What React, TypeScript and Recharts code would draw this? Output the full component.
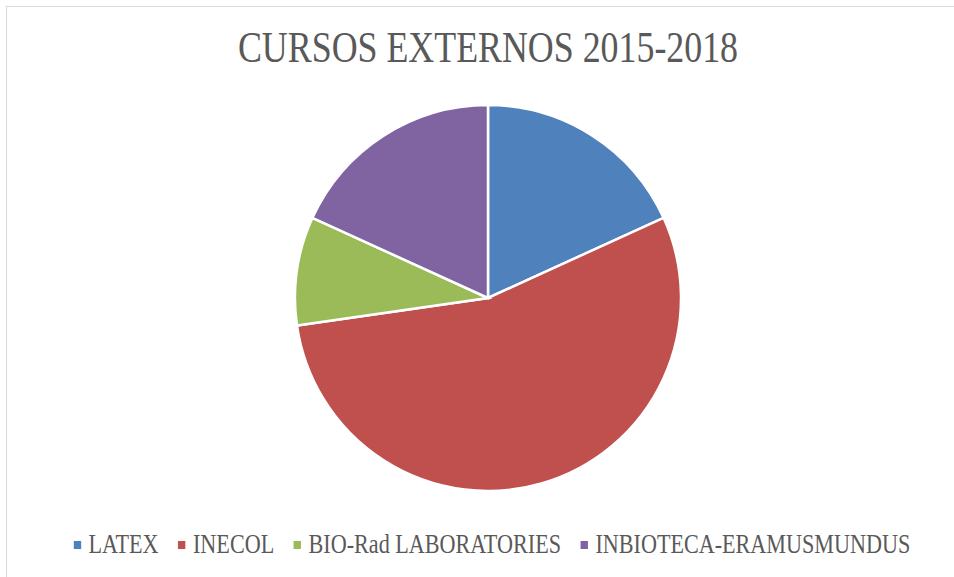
import React from "react";
import { PieChart, Pie, Cell, Legend } from "recharts";

const categories = ["LATEX", "INECOL", "BIO-Rad LABORATORIES", "INBIOTECA-ERAMUSMUNDUS"];
const cursos = [2, 6, 1, 2];
const colors = ["#4f81bd", "#c0504d", "#9bbb59", "#8064a2"];
const title = "CURSOS EXTERNOS 2015-2018";

const data = categories.map((name, i) => ({ name, value: cursos[i] }));

const FONT = '"Liberation Serif", "Times New Roman", serif';
const TEXT_COLOR = "#595959";

const renderLegend = (props: any) => {
  const payload = [...(props.payload || [])].sort(
    (a: any, b: any) => categories.indexOf(a.value) - categories.indexOf(b.value)
  );
  return (
    <div
      style={{
        display: "flex",
        justifyContent: "center",
        whiteSpace: "nowrap",
        transform: "scaleX(0.82)",
        transformOrigin: "center",
        fontFamily: FONT,
        fontSize: 27,
        color: TEXT_COLOR,
      }}
    >
      {payload.map((entry: any, i: number) => (
        <span
          key={entry.value}
          style={{ display: "inline-flex", alignItems: "center", marginLeft: i === 0 ? 0 : 24 }}
        >
          <span
            style={{
              display: "inline-block",
              width: 9,
              height: 8,
              background: entry.color,
              marginRight: 9,
            }}
          />
          {entry.value}
        </span>
      ))}
    </div>
  );
};

export default function App() {
  return (
    <div
      style={{
        position: "fixed",
        left: 0,
        top: 0,
        width: 954,
        height: 577,
        background: "#fff",
        overflow: "hidden",
      }}
    >
      <div
        style={{
          position: "absolute",
          left: 6,
          top: 6,
          width: 980,
          height: 600,
          border: "1px solid #d9d9d9",
        }}
      />
      <div
        style={{
          position: "absolute",
          left: 0,
          top: 22,
          width: 976,
          textAlign: "center",
          fontFamily: FONT,
          fontSize: 44,
          color: TEXT_COLOR,
          transform: "scaleX(0.815)",
          transformOrigin: "488px 0",
          whiteSpace: "nowrap",
        }}
      >
        {title}
      </div>
      <div style={{ position: "absolute", left: 0, top: 0 }}>
        <PieChart width={954} height={577} margin={{ top: 0, right: 0, bottom: 0, left: 0 }}>
          <Pie
            data={data}
            dataKey="value"
            nameKey="name"
            cx={488}
            cy={298}
            outerRadius={193}
            startAngle={90}
            endAngle={-270}
            stroke="#ffffff"
            strokeWidth={2.5}
            isAnimationActive={false}
          >
            {data.map((d, i) => (
              <Cell key={d.name} fill={colors[i]} />
            ))}
          </Pie>
          <Legend
            content={renderLegend}
            wrapperStyle={{ position: "absolute", left: 0, top: 529, width: 984, height: 40 }}
          />
        </PieChart>
      </div>
    </div>
  );
}
